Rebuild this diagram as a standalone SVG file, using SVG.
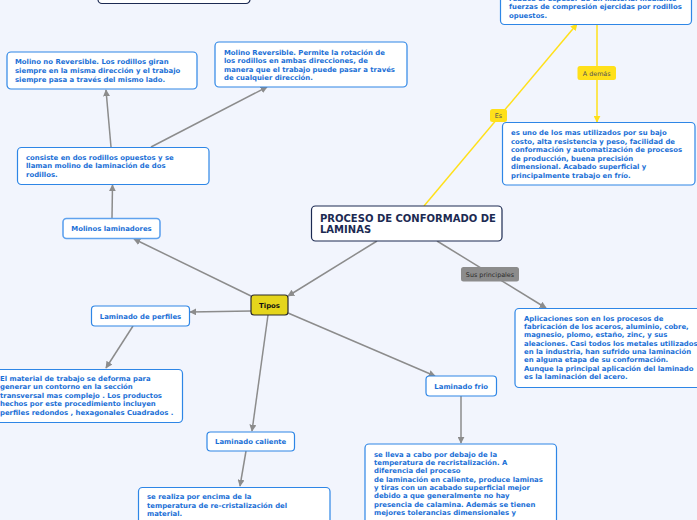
<svg xmlns="http://www.w3.org/2000/svg" width="697" height="520" viewBox="0 0 697 520">
<defs>
<marker id="ag" viewBox="0 0 10 10" refX="9" refY="5" markerWidth="7" markerHeight="7" markerUnits="userSpaceOnUse" orient="auto"><path d="M0,0 L10,5 L0,10 z" fill="#8c8c8c"/></marker>
<marker id="ay" viewBox="0 0 10 10" refX="9" refY="5" markerWidth="7" markerHeight="7" markerUnits="userSpaceOnUse" orient="auto"><path d="M0,0 L10,5 L0,10 z" fill="#ffe01a"/></marker>
<style>
.bx{fill:#fff;stroke:#2e86e6;stroke-width:1.2}
.t{font-family:"DejaVu Sans",Verdana,sans-serif;font-weight:bold;font-size:6.9px;fill:#1a6fd6}
.tc{text-anchor:middle}
.g{stroke:#8c8c8c;stroke-width:1.5;fill:none}
.y{stroke:#ffe01a;stroke-width:1.5;fill:none}
.lab{font-family:"DejaVu Sans",Verdana,sans-serif;font-size:6.4px;text-anchor:middle}
</style>
</defs>
<rect width="697" height="520" fill="#f2f5fd"/>
<g id="connectors">
<line class="g" x1="377" y1="241" x2="288" y2="296" marker-end="url(#ag)"/>
<line class="g" x1="251" y1="296" x2="134" y2="239" marker-end="url(#ag)"/>
<line class="g" x1="112" y1="218" x2="112.5" y2="185" marker-end="url(#ag)"/>
<line class="g" x1="111" y1="147" x2="106" y2="90" marker-end="url(#ag)"/>
<line class="g" x1="151" y1="147" x2="267" y2="87" marker-end="url(#ag)"/>
<line class="g" x1="251" y1="311" x2="190" y2="312" marker-end="url(#ag)"/>
<line class="g" x1="133" y1="326" x2="106" y2="368" marker-end="url(#ag)"/>
<line class="g" x1="268" y1="315" x2="252" y2="431" marker-end="url(#ag)"/>
<line class="g" x1="246" y1="451" x2="240" y2="486" marker-end="url(#ag)"/>
<line class="g" x1="288" y1="313" x2="435" y2="376" marker-end="url(#ag)"/>
<line class="g" x1="461" y1="396" x2="461" y2="443" marker-end="url(#ag)"/>
<line class="g" x1="437" y1="241" x2="546" y2="308" marker-end="url(#ag)"/>
<line class="y" x1="424" y1="206" x2="577" y2="24" marker-end="url(#ay)"/>
<line class="y" x1="597" y1="24" x2="597" y2="122" marker-end="url(#ay)"/>
</g>
<g id="lbl-sus"><rect x="461" y="267" width="58" height="14.5" rx="2.5" fill="#8c8c8c"/><text class="lab" x="490" y="276.5" fill="#2a2a2a">Sus principales</text></g>
<g id="lbl-ademas"><rect x="577.5" y="66" width="38.5" height="14" rx="2.5" fill="#ffe01a"/><text class="lab" x="596.7" y="75.5" fill="#555">A demás</text></g>
<g id="lbl-es"><rect x="490" y="109" width="17" height="13" rx="2.5" fill="#ffe01a"/><text class="lab" x="498.5" y="118" fill="#555">Es</text></g>
<g id="n-top"><rect x="98" y="-8" width="152" height="11.5" rx="4" fill="#fff" stroke="#1c2a52" stroke-width="1.2"/></g>
<g id="n-main"><rect x="311.5" y="206" width="190.5" height="35" rx="4" fill="#fff" stroke="#1c2a52" stroke-width="1.2"/>
<text font-family="DejaVu Sans,Verdana,sans-serif" font-weight="bold" font-size="10px" fill="#1c2a52" x="320" y="221.5">PROCESO DE CONFORMADO DE</text>
<text font-family="DejaVu Sans,Verdana,sans-serif" font-weight="bold" font-size="10px" fill="#1c2a52" x="320" y="233">LAMINAS</text></g>
<g id="n-tipos"><rect x="251" y="295" width="37" height="20" rx="3" fill="#e5d51c" stroke="#2b2b2b" stroke-width="1.2"/><text class="t tc" x="269.5" y="307.5" style="fill:#111">Tipos</text></g>
<g id="n-nrev"><rect class="bx" x="7" y="52" width="190" height="37" rx="4"/>
<text class="t" x="15" y="64">Molino no Reversible. Los rodillos giran</text>
<text class="t" x="15" y="73">siempre en la misma dirección y el trabajo</text>
<text class="t" x="15" y="82">siempre pasa a través del mismo lado.</text></g>
<g id="n-rev"><rect class="bx" x="215" y="42" width="192" height="45" rx="4"/>
<text class="t" x="224" y="55">Molino Reversible. Permite la rotación de</text>
<text class="t" x="224" y="63.3">los rodillos en ambas direcciones, de</text>
<text class="t" x="224" y="71.7">manera que el trabajo puede pasar a través</text>
<text class="t" x="224" y="80">de cualquier dirección.</text></g>
<g id="n-def"><rect class="bx" x="500.5" y="-20" width="191" height="44.5" rx="4"/>
<text class="t" x="509" y="0.5">reduce el espesor de un material mediante</text>
<text class="t" x="509" y="9">fuerzas de compresión ejercidas por rodillos</text>
<text class="t" x="509" y="17.5">opuestos.</text></g>
<g id="n-uso"><rect class="bx" x="502.5" y="122.5" width="192.5" height="62.5" rx="4"/>
<text class="t" x="511" y="135">es uno de los mas utilizados por su bajo</text>
<text class="t" x="511" y="143.5">costo, alta resistencia y peso, facilidad de</text>
<text class="t" x="511" y="152">conformación y automatización de procesos</text>
<text class="t" x="511" y="160.5">de producción, buena precisión</text>
<text class="t" x="511" y="169">dimensional. Acabado superficial y</text>
<text class="t" x="511" y="177.5">principalmente trabajo en frío.</text></g>
<g id="n-consiste"><rect class="bx" x="17.5" y="147.5" width="191.5" height="37" rx="4"/>
<text class="t" x="26" y="160">consiste en dos rodillos opuestos y se</text>
<text class="t" x="26" y="168.3">llaman molino de laminación de dos</text>
<text class="t" x="26" y="176.7">rodillos.</text></g>
<g id="n-molinos"><rect class="bx" x="63" y="218.5" width="97" height="20" rx="3.5" style="stroke:#5fa2ee;stroke-width:1.6"/>
<text class="t tc" x="111.5" y="231">Molinos laminadores</text></g>
<g id="n-perfiles"><rect class="bx" x="91.5" y="306" width="98" height="20" rx="3.5"/>
<text class="t tc" x="140.5" y="318.5">Laminado de perfiles</text></g>
<g id="n-material"><rect class="bx" x="-8" y="369.5" width="190.5" height="53" rx="4"/>
<text class="t" x="0" y="380.7">El material de trabajo se deforma para</text>
<text class="t" x="0" y="389.2">generar un contorno en la sección</text>
<text class="t" x="0" y="397.7">transversal mas complejo . Los productos</text>
<text class="t" x="0" y="406.2">hechos por este procedimiento incluyen</text>
<text class="t" x="0" y="414.5">perfiles redondos , hexagonales Cuadrados .</text></g>
<g id="n-caliente"><rect class="bx" x="207" y="432" width="87.5" height="19" rx="3.5"/>
<text class="t tc" x="250.7" y="444">Laminado caliente</text></g>
<g id="n-realiza"><rect class="bx" x="138.5" y="487.5" width="191.5" height="50" rx="4"/>
<text class="t" x="147" y="499.3">se realiza por encima de la</text>
<text class="t" x="147" y="507.7">temperatura de re-cristalización del</text>
<text class="t" x="147" y="516">material.</text></g>
<g id="n-frio"><rect class="bx" x="426" y="376" width="70.5" height="20" rx="3.5"/>
<text class="t tc" x="461.2" y="388.5">Laminado frio</text></g>
<g id="n-lleva"><rect class="bx" x="365" y="444" width="191.5" height="90" rx="4"/>
<text class="t" x="374" y="456.7">se lleva a cabo por debajo de la</text>
<text class="t" x="374" y="465">temperatura de recristalización. A</text>
<text class="t" x="374" y="473.3">diferencia del proceso</text>
<text class="t" x="374" y="481.7">de laminación en caliente, produce laminas</text>
<text class="t" x="374" y="490">y tiras con un acabado superficial mejor</text>
<text class="t" x="374" y="498.3">debido a que generalmente no hay</text>
<text class="t" x="374" y="506.7">presencia de calamina. Además se tienen</text>
<text class="t" x="374" y="515">mejores tolerancias dimensionales y</text></g>
<g id="n-aplic"><rect class="bx" x="515" y="308.5" width="190" height="79" rx="4"/>
<text class="t" x="524" y="320.7">Aplicaciones son en los procesos de</text>
<text class="t" x="524" y="329">fabricación de los aceros, aluminio, cobre,</text>
<text class="t" x="524" y="337.3">magnesio, plomo, estaño, zinc, y sus</text>
<text class="t" x="524" y="345.6">aleaciones. Casi todos los metales utilizados</text>
<text class="t" x="524" y="353.9">en la industria, han sufrido una laminación</text>
<text class="t" x="524" y="362.2">en alguna etapa de su conformación.</text>
<text class="t" x="524" y="370.5">Aunque la principal aplicación del laminado</text>
<text class="t" x="524" y="378.8">es la laminación del acero.</text></g>
</svg>
